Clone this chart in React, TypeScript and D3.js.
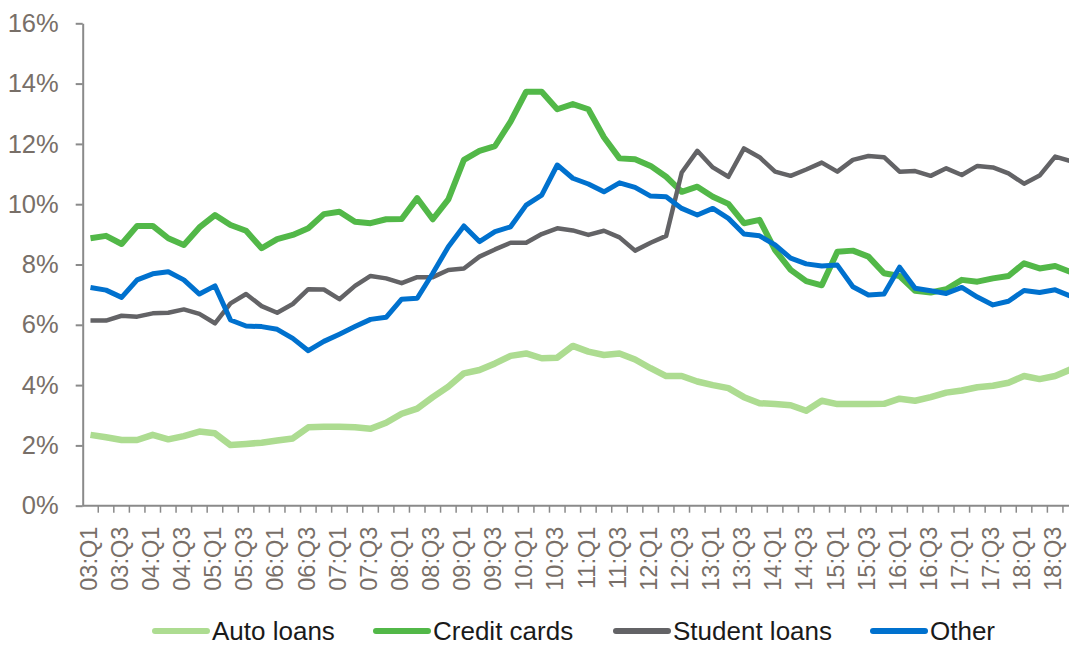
import * as d3 from 'd3'
import { useEffect, useRef } from 'react'

const fullWidth = 1069
const fullHeight = 645
const plot = { left: 82.7, right: 1078.5, top: 23.3, bottom: 505.7 }

// 03:Q1 .. 18:Q4
const years = ['03', '04', '05', '06', '07', '08', '09', '10', '11', '12', '13', '14', '15', '16', '17', '18']
const quarters = years.flatMap((yr) => ['Q1', 'Q2', 'Q3', 'Q4'].map((q) => `${yr}:${q}`))
const yTicks = [0, 2, 4, 6, 8, 10, 12, 14, 16]

const autoLoans = [
  2.35, 2.27, 2.18, 2.18, 2.35, 2.2, 2.31, 2.46, 2.4, 2.01, 2.05, 2.09, 2.16, 2.23, 2.6, 2.62,
  2.62, 2.6, 2.55, 2.75, 3.05, 3.22, 3.6, 3.95, 4.39, 4.5, 4.72, 4.97, 5.05, 4.89, 4.91, 5.3,
  5.11, 5.0, 5.05, 4.85, 4.56, 4.3, 4.3, 4.12, 4.0, 3.9, 3.6, 3.4, 3.37, 3.33, 3.15, 3.48,
  3.37, 3.37, 3.37, 3.38, 3.55, 3.48, 3.6, 3.75, 3.82, 3.93, 3.98, 4.08, 4.3, 4.2, 4.3, 4.52,
]
const creditCards = [
  8.87, 8.95, 8.68, 9.28, 9.28, 8.87, 8.65, 9.23, 9.64, 9.31, 9.12, 8.54, 8.84, 8.98, 9.2, 9.67,
  9.75, 9.42, 9.37, 9.5, 9.51, 10.2, 9.5, 10.16, 11.47, 11.77, 11.93, 12.74, 13.73, 13.73, 13.15, 13.32,
  13.15, 12.22, 11.52, 11.49, 11.27, 10.91, 10.41, 10.58, 10.25, 10.01, 9.37, 9.48, 8.48, 7.82, 7.45, 7.31,
  8.42, 8.46, 8.26, 7.71, 7.62, 7.13, 7.07, 7.18, 7.49, 7.43, 7.54, 7.62, 8.04, 7.87, 7.95, 7.75,
]
const studentLoans = [
  6.14, 6.14, 6.3, 6.27, 6.38, 6.4, 6.51, 6.36, 6.05, 6.71, 7.02, 6.62, 6.4, 6.69, 7.18, 7.17,
  6.85, 7.29, 7.62, 7.54, 7.38, 7.58, 7.58, 7.82, 7.87, 8.26, 8.5, 8.72, 8.72, 9.01, 9.2, 9.13,
  8.98, 9.12, 8.9, 8.46, 8.72, 8.95, 11.05, 11.77, 11.22, 10.91, 11.85, 11.56, 11.08, 10.94, 11.15, 11.38,
  11.08, 11.47, 11.6, 11.56, 11.08, 11.1, 10.94, 11.19, 10.97, 11.27, 11.22, 11.02, 10.68, 10.95, 11.58, 11.43,
]
const other = [
  7.24, 7.15, 6.91, 7.49, 7.69, 7.76, 7.49, 7.02, 7.29, 6.16, 5.96, 5.94, 5.85, 5.55, 5.14, 5.45,
  5.69, 5.94, 6.18, 6.25, 6.85, 6.88, 7.71, 8.59, 9.28, 8.76, 9.09, 9.25, 9.97, 10.3, 11.3, 10.86,
  10.67, 10.41, 10.71, 10.56, 10.27, 10.25, 9.86, 9.64, 9.86, 9.53, 9.01, 8.95, 8.65, 8.21, 8.02, 7.95,
  7.98, 7.26, 6.99, 7.02, 7.91, 7.21, 7.13, 7.04, 7.24, 6.92, 6.66, 6.78, 7.14, 7.07, 7.16, 6.95,
]

const seriesNames = ['Auto loans', 'Credit cards', 'Student loans', 'Other']
const seriesValues = [autoLoans, creditCards, studentLoans, other]
const colors = ['#addc91', '#52b848', '#636366', '#0071ce']
const strokeWidths = [6.5, 6, 4.5, 5]
const legendX = [152, 373, 613, 870]

const axisColor = '#8a8a8a'
const labelColor = '#786f68'

export default function App() {
  const ref = useRef<SVGSVGElement>(null)

  useEffect(() => {
    const svg = d3.select(ref.current)
    svg.selectAll('*').remove()

    const x = d3.scaleBand().domain(quarters).range([plot.left, plot.right])
    const y = d3.scaleLinear().domain([0, 16]).range([plot.bottom, plot.top])

    // y axis
    const yAxis = d3
      .axisLeft(y)
      .tickValues(yTicks)
      .tickFormat((d) => `${d}%`)
      .tickSize(7)
      .tickSizeOuter(0)
      .tickPadding(17)
    const gy = svg.append('g').attr('transform', `translate(${plot.left},0)`).call(yAxis)
    gy.attr('font-size', null).attr('font-family', null)
    gy.select('.domain').attr('stroke', axisColor).attr('stroke-width', 2)
    gy.selectAll('.tick line').attr('stroke', axisColor).attr('stroke-width', 2)
    gy.selectAll('.tick text')
      .attr('fill', labelColor)
      .style('font-size', '25.5px')
      .style('font-family', 'Liberation Sans, Arial, sans-serif')

    // x axis: ticks between quarters
    const gx = svg.append('g')
    gx.append('line')
      .attr('x1', plot.left)
      .attr('x2', plot.right)
      .attr('y1', plot.bottom)
      .attr('y2', plot.bottom)
      .attr('stroke', axisColor)
      .attr('stroke-width', 2)
    gx.selectAll('line.tk')
      .data(quarters.slice(1))
      .enter()
      .append('line')
      .attr('class', 'tk')
      .attr('x1', (d) => x(d))
      .attr('x2', (d) => x(d))
      .attr('y1', plot.bottom)
      .attr('y2', plot.bottom + 7)
      .attr('stroke', axisColor)
      .attr('stroke-width', 1.5)
    gx.selectAll('text')
      .data(quarters.filter((d, i) => i % 2 === 0))
      .enter()
      .append('text')
      .attr('transform', (d) => `translate(${x(d) + x.bandwidth() / 2 - 2}, ${plot.bottom + 21}) rotate(-90)`)
      .attr('dy', '0.35em')
      .attr('text-anchor', 'end')
      .attr('fill', labelColor)
      .style('font-size', '23.5px')
      .style('font-family', 'Liberation Sans, Arial, sans-serif')
      .text((d) => d)

    // lines
    const line = d3
      .line<number>()
      .x((d, i) => x(quarters[i]) + x.bandwidth() / 2)
      .y((d) => y(d))
    svg
      .selectAll('path.series')
      .data(seriesValues)
      .enter()
      .append('path')
      .attr('class', 'series')
      .attr('d', (d) => line(d))
      .attr('fill', 'none')
      .attr('stroke', (d, i) => colors[i])
      .attr('stroke-width', (d, i) => strokeWidths[i])
      .attr('stroke-linejoin', 'round')

    // legend
    const legend = svg
      .selectAll('g.legend')
      .data(seriesNames)
      .enter()
      .append('g')
      .attr('class', 'legend')
      .attr('transform', (d, i) => `translate(${legendX[i]}, 631)`)
    legend
      .append('line')
      .attr('x1', 3)
      .attr('x2', 55)
      .attr('stroke', (d, i) => colors[i])
      .attr('stroke-width', 6)
      .attr('stroke-linecap', 'round')
    legend
      .append('text')
      .attr('x', 60)
      .attr('dy', '0.35em')
      .attr('fill', '#1a1a1a')
      .style('font-size', '26px')
      .style('font-family', 'Liberation Sans, Arial, sans-serif')
      .text((d) => d)
  }, [])

  return (
    <svg
      ref={ref}
      width={fullWidth}
      height={fullHeight}
      style={{ position: 'absolute', left: 0, top: 0, background: '#fff' }}
    />
  )
}
